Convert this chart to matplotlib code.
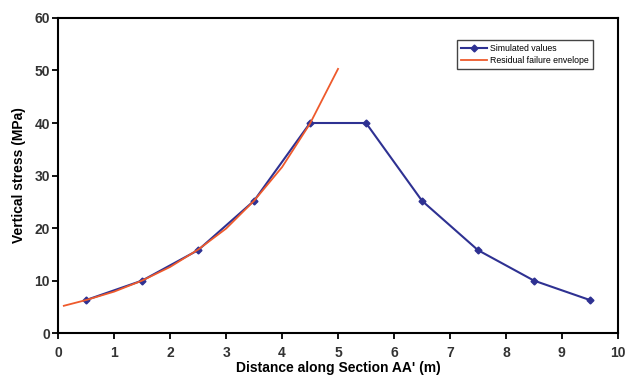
import matplotlib
matplotlib.use("Agg")
import matplotlib.pyplot as plt

# simulated values along the section
sim_x = [0.5, 1.5, 2.5, 3.5, 4.5, 5.5, 6.5, 7.5, 8.5, 9.5]
sim_y = [6.3, 10.0, 15.8, 25.2, 40.0, 40.0, 25.2, 15.8, 10.0, 6.3]

# residual failure envelope
env_x = [0.1, 0.5, 1.0, 1.5, 2.0, 2.5, 3.0, 3.5, 4.0, 4.5, 5.0]
env_y = [5.2, 6.3, 7.9, 10.0, 12.6, 15.9, 19.9, 25.2, 31.6, 39.9, 50.3]

plt.rcParams['font.family'] = ['Liberation Sans', 'DejaVu Sans']

fig = plt.figure(figsize=(6.33, 3.82), dpi=100)
ax = fig.add_axes([0.092, 0.128, 0.884, 0.825])

ax.plot(sim_x, sim_y, color='#2e3192', lw=1.5, marker='D', ms=3.5,
        label='Simulated values')
ax.plot(env_x, env_y, color='#ee5a2c', lw=1.3, label='Residual failure envelope')

ax.set_xlim(0, 10)
ax.set_ylim(0, 60)
ax.set_xticks(range(0, 11))
ax.set_yticks(range(0, 61, 10))
ax.tick_params(direction='out', length=4, width=1.3, labelsize=10)
ax.tick_params(axis='x', pad=5)
ax.tick_params(axis='y', pad=2)
for lbl in ax.get_xticklabels() + ax.get_yticklabels():
    lbl.set_fontweight('bold')
    lbl.set_color('#333333')
for s in ax.spines.values():
    s.set_linewidth(1.5)

ax.set_xlabel("Distance along Section AA' (m)", fontsize=10, fontweight='bold',
              labelpad=1)
ax.set_ylabel('Vertical stress (MPa)', fontsize=10, fontweight='bold',
              labelpad=6)

leg = ax.legend(loc='upper right', bbox_to_anchor=(0.955, 0.93), fontsize=6.3,
                fancybox=False, edgecolor='#444444', framealpha=1,
                handlelength=3, borderpad=0.45, labelspacing=0.3,
                handletextpad=0.3, borderaxespad=0)
leg.get_frame().set_linewidth(1.0)

fig.savefig('out.png', dpi=100)
